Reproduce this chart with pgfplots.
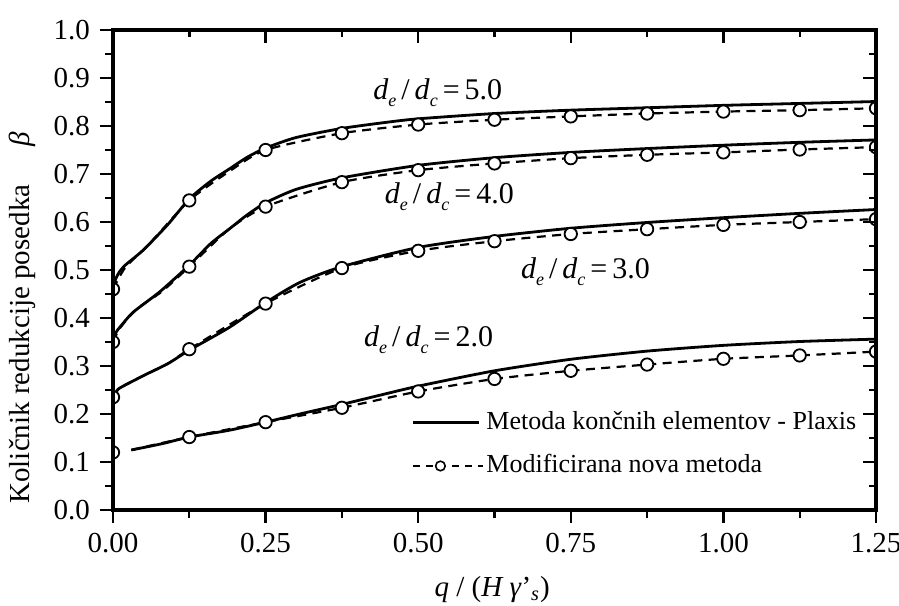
\documentclass[border=0pt]{standalone}
\usepackage{pgfplots}
\pgfplotsset{compat=1.18}
\usepackage{fontspec}
\setmainfont{Liberation Serif}

% d_e / d_c ratio label
\newcommand{\ratio}[1]{\textit{d}\raisebox{-0.5ex}{\small\textit{e}}\,/\,\textit{d}\raisebox{-0.5ex}{\small\textit{c}}\,=\,#1}

\pgfplotsset{
  clip marker paths=true,
  frame/.style={
    at={(0,0)}, anchor=south west,
    scale only axis, width=381.5pt, height=240pt,
    xmin=0, xmax=1.25, ymin=0, ymax=1.0,
    xtick={0,0.25,0.5,0.75,1,1.25}, minor x tick num=1,
    ytick={0,0.1,0.2,0.3,0.4,0.5,0.6,0.7,0.8,0.9,1.0}, minor y tick num=1,
    major tick length=6.5pt, minor tick length=3.75pt,
    every tick/.style={black, line width=1.2pt},
    axis line style={line width=1.6pt},
  },
  solidcurve/.style={black, line width=1.4pt, smooth, tension=0.4},
  dashcurve/.style={black, line width=1.1pt, dash pattern=on 4.5pt off 3.2pt,
    smooth, tension=0.4, mark=*, mark size=3.1pt,
    mark options={solid, fill=white, line width=0.9pt}},
  solidleg/.style={legend image code/.code={\draw[##1] (0pt,0pt) -- (33pt,0pt);}},
  dashleg/.style={legend image code/.code={\draw[##1] (0pt,0pt) -- (35pt,0pt);
    \draw[solid, black, fill=white, line width=0.8pt] (13.5pt,0pt) circle (2.4pt);}},
}

% FEM (Plaxis) curves
\pgfplotstableread{
x y
0 0.46
0.004 0.48
0.01 0.495
0.02 0.51
0.05 0.542
0.09 0.595
0.125 0.648
0.16 0.685
0.19 0.71
0.22 0.735
0.25 0.754
0.30 0.776
0.375 0.795
0.45 0.808
0.5 0.815
0.625 0.826
0.75 0.833
0.875 0.838
1.0 0.843
1.125 0.847
1.25 0.851
}\feaFive
\pgfplotstableread{
x y
0 0.35
0.005 0.37
0.012 0.382
0.033 0.412
0.077 0.455
0.125 0.51
0.16 0.555
0.19 0.585
0.2 0.595
0.22 0.615
0.25 0.64
0.3 0.668
0.375 0.692
0.5 0.718
0.625 0.734
0.75 0.745
0.875 0.753
1.0 0.76
1.125 0.766
1.25 0.771
}\feaFour
\pgfplotstableread{
x y
0 0.233
0.005 0.245
0.011 0.254
0.05 0.28
0.09 0.305
0.125 0.333
0.19 0.38
0.25 0.432
0.306 0.474
0.375 0.507
0.5 0.547
0.625 0.57
0.75 0.587
0.875 0.599
1.0 0.609
1.125 0.618
1.25 0.626
}\feaThree
\pgfplotstableread{
x y
0.03 0.125
0.08 0.138
0.125 0.152
0.19 0.166
0.25 0.183
0.306 0.2
0.375 0.22
0.44 0.24
0.5 0.258
0.625 0.29
0.75 0.314
0.875 0.331
1.0 0.343
1.125 0.351
1.25 0.356
}\feaTwo

% modified new method
\pgfplotstableread{
x y
0 0.46
0.02 0.505
0.06 0.555
0.125 0.645
0.19 0.705
0.25 0.75
0.375 0.785
0.5 0.803
0.625 0.813
0.75 0.82
0.875 0.826
1.0 0.83
1.125 0.833
1.25 0.837
}\modFive
\pgfplotstableread{
x y
0 0.35
0.012 0.38
0.04 0.42
0.08 0.455
0.125 0.507
0.19 0.585
0.25 0.632
0.375 0.683
0.5 0.708
0.625 0.722
0.75 0.733
0.875 0.74
1.0 0.745
1.125 0.751
1.25 0.756
}\modFour
\pgfplotstableread{
x y
0 0.235
0.011 0.254
0.05 0.28
0.09 0.305
0.125 0.335
0.25 0.43
0.375 0.504
0.5 0.54
0.625 0.56
0.75 0.575
0.875 0.585
1.0 0.594
1.125 0.6
1.25 0.606
}\modThree
\pgfplotstableread{
x y
0.03 0.125
0.125 0.152
0.25 0.183
0.375 0.213
0.5 0.247
0.625 0.273
0.75 0.29
0.875 0.303
1.0 0.315
1.125 0.322
1.25 0.33
}\modTwo

\begin{document}
\fontsize{14.5}{17}\selectfont
\begin{tikzpicture}
\useasboundingbox (-56.5pt,-47.5pt) rectangle (393pt,255pt);
\begin{axis}[
  frame,
  xtick pos=bottom, ytick pos=left, tick align=outside,
  /pgf/number format/assume math mode=true,
  xticklabel style={/pgf/number format/.cd, fixed, fixed zerofill, precision=2},
  yticklabel style={/pgf/number format/.cd, fixed, fixed zerofill, precision=1},
  xlabel={\textit{q} / (\textit{H γ}’\textsubscript{\textit{s}})},
  xlabel style={at={(axis description cs:0.497,-0.166)}, anchor=center},
  ylabel={Količnik redukcije posedka\hspace{1.3em}\textit{β}},
  ylabel style={at={(axis description cs:-0.119,0.40)}, anchor=center, rotate=0},
  legend cell align=left,
  legend style={draw=none, fill=none, at={(axis description cs:0.389,0.215)},
    anchor=north west, row sep=8.5pt, inner sep=1pt,
    nodes={inner sep=1pt, font=\fontsize{13}{15.6}\selectfont}},
]
\addplot[solidcurve, forget plot] table {\feaFive};
\addplot[solidcurve, forget plot] table {\feaFour};
\addplot[solidcurve, forget plot] table {\feaThree};
\addplot[solidcurve, forget plot] table {\feaTwo};

\addplot[dashcurve, mark indices={1,4,6,7,8,9,10,11,12,13,14}, forget plot] table {\modFive};
\addplot[dashcurve, mark indices={1,5,7,8,9,10,11,12,13,14,15}, forget plot] table {\modFour};
\addplot[dashcurve, mark indices={1,5,6,7,8,9,10,11,12,13,14}, forget plot] table {\modThree};
\addplot[dashcurve, mark indices={2,3,4,5,6,7,8,9,10,11}, forget plot] table {\modTwo};
\addplot[only marks, mark=*, mark size=3.1pt, fill=white, line width=0.9pt, forget plot]
  coordinates {(0,0.12)};

\addlegendimage{black, line width=1.2pt, solidleg}
\addlegendentry{Metoda končnih elementov - Plaxis}
\addlegendimage{black, line width=1.0pt, dash pattern=on 3.5pt off 3pt, dashleg}
\addlegendentry{Modificirana nova metoda}

\node[font=\fontsize{15}{18}\selectfont] at (axis cs:0.532,0.869) {\ratio{5.0}};
\node[font=\fontsize{15}{18}\selectfont] at (axis cs:0.551,0.652) {\ratio{4.0}};
\node[font=\fontsize{15}{18}\selectfont] at (axis cs:0.774,0.496) {\ratio{3.0}};
\node[font=\fontsize{15}{18}\selectfont] at (axis cs:0.517,0.354) {\ratio{2.0}};
\end{axis}
\begin{axis}[
  frame,
  xtick pos=top, ytick pos=right, tick align=inside,
  xticklabels={}, yticklabels={},
]
\end{axis}
\end{tikzpicture}
\end{document}
